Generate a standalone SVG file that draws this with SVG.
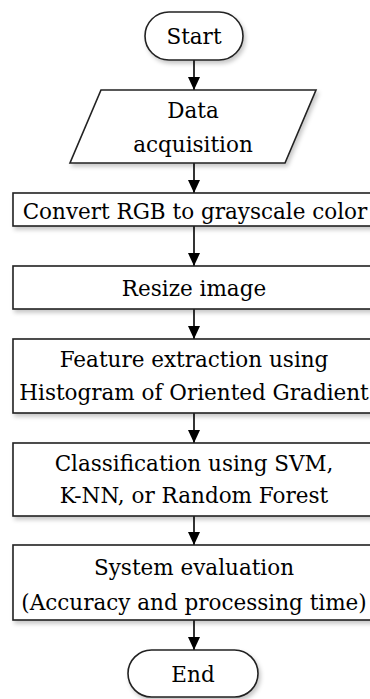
<svg xmlns="http://www.w3.org/2000/svg" width="370" height="699" viewBox="0 0 370 699">
  <style>
    .shape { fill: #ffffff; stroke: #222222; stroke-width: 1.6; filter: url(#shadow); }
    .label { font-family: "DejaVu Serif", "Liberation Serif", serif; font-size: 21.5px; fill: #000000; text-anchor: middle; }
    .conn { stroke: #000000; stroke-width: 1.6; fill: none; marker-end: url(#arrow); }
  </style>
  <defs>
    <filter id="shadow" x="-10%" y="-20%" width="130%" height="160%">
      <feDropShadow dx="2" dy="3" stdDeviation="2" flood-color="#000000" flood-opacity="0.22"/>
    </filter>
    <marker id="arrow" viewBox="0 0 13 12" refX="13" refY="6" markerWidth="13" markerHeight="12" markerUnits="userSpaceOnUse" orient="auto">
      <path d="M0,0 L13,6 L0,12 z" fill="#000000"/>
    </marker>
  </defs>
  <rect width="370" height="699" fill="#ffffff"/>

  <g id="connectors">
    <line class="conn" x1="194" y1="60" x2="194" y2="90"/>
    <line class="conn" x1="194" y1="163" x2="194" y2="193"/>
    <line class="conn" x1="194" y1="226" x2="194" y2="266"/>
    <line class="conn" x1="194" y1="309" x2="194" y2="339"/>
    <line class="conn" x1="194" y1="413" x2="194" y2="443"/>
    <line class="conn" x1="194" y1="516" x2="194" y2="545"/>
    <line class="conn" x1="194" y1="620" x2="194" y2="650"/>
  </g>

  <g id="start">
    <rect class="shape" x="145" y="12" width="98" height="48" rx="24" ry="24"/>
    <text class="label" x="194" y="44">Start</text>
  </g>

  <g id="data-acquisition">
    <polygon class="shape" points="101,90 316,90 285,163 70,163"/>
    <text class="label" x="193" y="118">Data</text>
    <text class="label" x="193" y="152">acquisition</text>
  </g>

  <g id="convert">
    <rect class="shape" x="13" y="193" width="362" height="33"/>
    <text class="label" x="195" y="219">Convert RGB to grayscale color</text>
  </g>

  <g id="resize">
    <rect class="shape" x="13" y="266" width="362" height="43"/>
    <text class="label" x="194" y="296">Resize image</text>
  </g>

  <g id="feature">
    <rect class="shape" x="13" y="339" width="362" height="74"/>
    <text class="label" x="194" y="367">Feature extraction using</text>
    <text class="label" x="194" y="400">Histogram of Oriented Gradient</text>
  </g>

  <g id="classification">
    <rect class="shape" x="13" y="443" width="362" height="73"/>
    <text class="label" x="194" y="471">Classification using SVM,</text>
    <text class="label" x="194" y="503">K-NN, or Random Forest</text>
  </g>

  <g id="evaluation">
    <rect class="shape" x="13" y="545" width="362" height="75"/>
    <text class="label" x="194" y="575">System evaluation</text>
    <text class="label" x="194" y="610">(Accuracy and processing time)</text>
  </g>

  <g id="end">
    <rect class="shape" x="128" y="650" width="130" height="47" rx="23.5" ry="23.5"/>
    <text class="label" x="193" y="682">End</text>
  </g>
</svg>
